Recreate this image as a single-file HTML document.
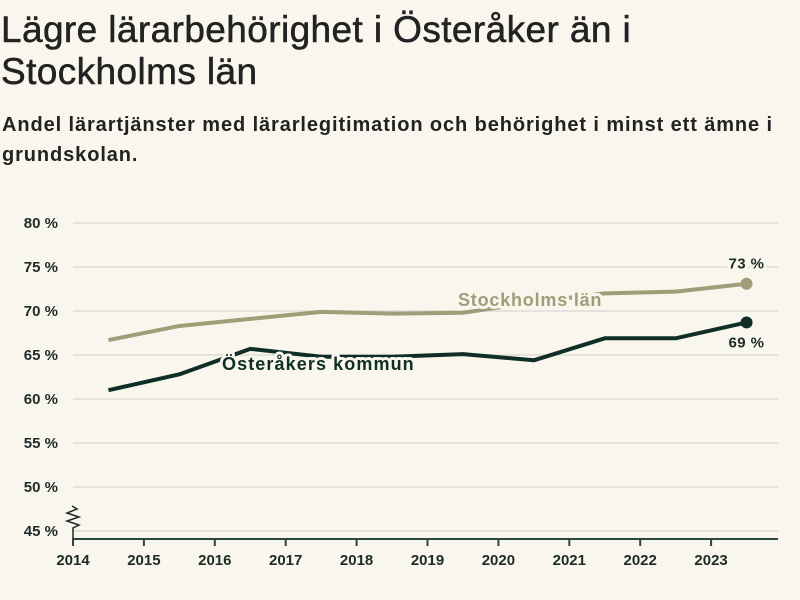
<!DOCTYPE html>
<html><head><meta charset="utf-8"><style>
body{margin:0;background:#f8f6ed;font-family:"Liberation Sans",sans-serif;color:#1d2b28;width:800px;height:600px;overflow:hidden}
h1{position:absolute;left:1px;top:9px;margin:0;font-size:37px;font-weight:normal;line-height:42px;color:#222;letter-spacing:0.4px;white-space:nowrap;-webkit-text-stroke:0.5px #222}
h2{position:absolute;left:2px;top:110px;margin:0;font-size:20px;font-weight:bold;line-height:30px;color:#222;white-space:nowrap;letter-spacing:0.9px}
svg{position:absolute;left:0;top:0}
</style></head><body>
<h1>Lägre lärarbehörighet i Österåker än i<br>Stockholms län</h1>
<h2>Andel lärartjänster med lärarlegitimation och behörighet i minst ett ämne i<br>grundskolan.</h2>
<svg id="c" width="800" height="600"></svg>
<script>
const years=[2014,2015,2016,2017,2018,2019,2020,2021,2022,2023];
const xs=[2014.5,2015.5,2016.5,2017.5,2018.5,2019.5,2020.5,2021.5,2022.5,2023.5];
const sthlm=[66.7,68.3,69.1,69.9,69.7,69.8,71.0,72.0,72.2,73.1];
const oster=[61.0,62.8,65.7,64.8,64.8,65.1,64.4,66.9,66.9,68.7];
const yTicks=[45,50,55,60,65,70,75,80];
const NS="http://www.w3.org/2000/svg";
const svg=document.getElementById('c');
const X=v=>73+(v-2014)*70.9;
const Y=v=>531-(v-45)*8.8;
function el(t,a,p){const e=document.createElementNS(NS,t);for(const k in a)e.setAttribute(k,a[k]);(p||svg).appendChild(e);return e;}
yTicks.forEach(t=>{
 const g=el('line',{x1:73,x2:778,y1:Y(t),y2:Y(t),stroke:'#dedcd3','stroke-width':1.5});
 
 
 const tx=el('text',{x:58,y:Y(t)+5,'text-anchor':'end','font-size':15,'font-weight':'bold',fill:'#1d2b28'});
 tx.textContent=t+' %';
 
 
});
const ax=el('line',{x1:73,x2:778,y1:539,y2:539,stroke:'#2c4540','stroke-width':2});


const br=el('path',{d:'M73 539 L73 528 L79 525 L67 521 L79 517 L67 513 L77 509 L72 506',fill:'none',stroke:'#1d2b28','stroke-width':1.5});


years.forEach(y=>{
 const t=el('line',{x1:X(y),x2:X(y),y1:539,y2:546,stroke:'#2c4540','stroke-width':2});
 
 
 const tx=el('text',{x:X(y),y:565,'text-anchor':'middle','font-size':15,'font-weight':'bold',fill:'#1d2b28'});
 tx.textContent=y;
 
 
});
function series(vals,col,name){
 const p=el('polyline',{points:vals.map((v,i)=>X(xs[i])+','+Y(v)).join(' '),fill:'none',stroke:col,'stroke-width':4,'stroke-linejoin':'round'});
 
 
 const n=vals.length-1;
 const c=el('circle',{cx:X(xs[n]),cy:Y(vals[n]),r:6,fill:col});
 
 
}
series(sthlm,'#a19d78','stockholm');
series(oster,'#0f2e27','osteraker');
function label(txt,x,y,col,name,size,ls){
 const t=el('text',{x:x,y:y,'font-size':size,'font-weight':'bold',fill:col,stroke:'#f8f6ed','stroke-width':6,'paint-order':'stroke','stroke-linejoin':'round','letter-spacing':ls});
 t.textContent=txt;
 
 
}
label('Stockholms län',458,306,'#a19d78','stockholm-label',18,0.8);
label('Österåkers kommun',222,370,'#0f2e27','osteraker-label',18,1.1);
label(Math.round(sthlm[9])+' %',X(xs[9])-18,Y(sthlm[9])-15,'#1d2b28','stockholm-end-value',15,0.4);
label(Math.round(oster[9])+' %',X(xs[9])-18,Y(oster[9])+25,'#1d2b28','osteraker-end-value',15,0.4);
</script>
</body></html>
